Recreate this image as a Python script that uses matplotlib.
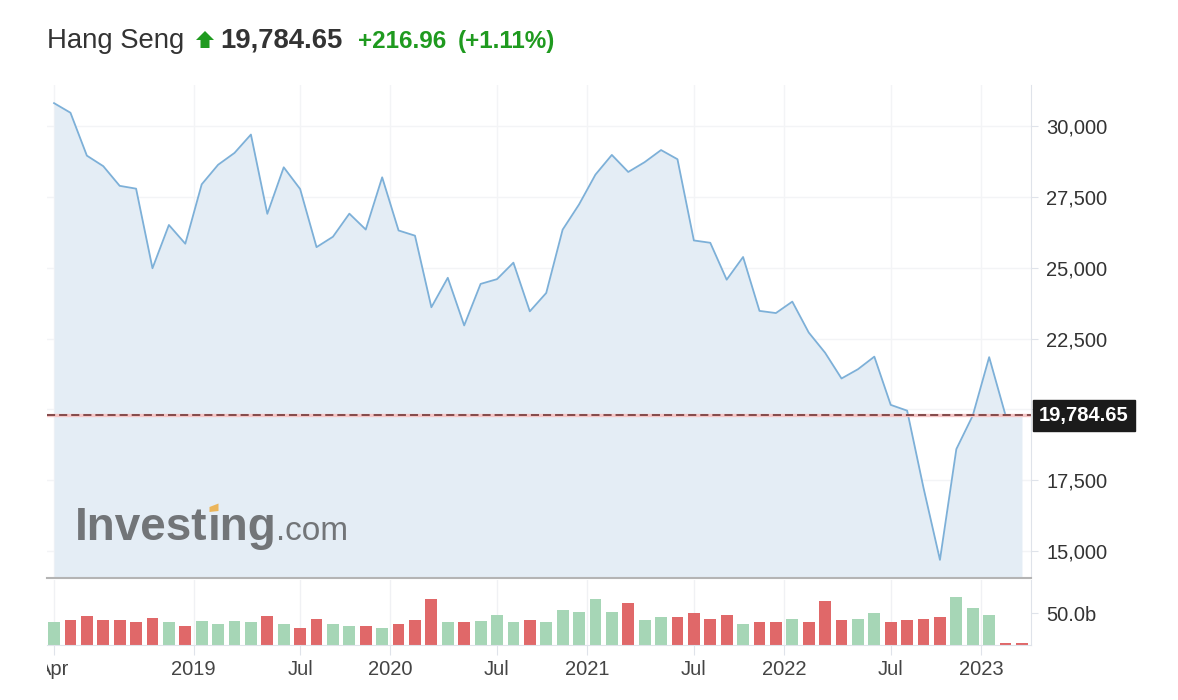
import matplotlib
matplotlib.use("Agg")
import matplotlib.pyplot as plt
import numpy as np
from matplotlib.patches import Polygon
from matplotlib.transforms import Bbox, TransformedBbox

plt.rcParams['font.family'] = ['Liberation Sans', 'DejaVu Sans']

# monthly closes, Apr 2018 .. Mar 2023
close = [30808, 30469, 28955, 28583, 27889, 27789, 24980, 26507, 25846,
         27942, 28633, 29051, 29699, 26901, 28543, 27777, 25725, 26092, 26907, 26346, 28190,
         26313, 26130, 23603, 24644, 22961, 24427, 24595, 25177, 23459, 24107, 26341, 27231,
         28284, 28980, 28378, 28725, 29152, 28828, 25961, 25879, 24576, 25377, 23475, 23398,
         23802, 22713, 21997, 21089, 21415, 21860, 20157, 19954, 17223, 14687, 18597, 19781,
         21842, 19786, 19784.65]
prev_close = 30093  # Mar 2018 close, colours the first volume bar
prev_day = 19567.69  # previous session close, for the header change

# monthly volume, billions
volume = [35.3, 38.4, 44.7, 38.4, 38.4, 35.8, 41.6, 35.3, 30.0,
          37.9, 32.6, 37.9, 35.3, 44.7, 32.6, 26.8, 41.1, 32.6, 30.0, 30.0, 26.8,
          32.6, 38.4, 72.1, 35.3, 35.3, 37.9, 46.8, 35.3, 38.4, 35.3, 54.7, 52.1,
          71.6, 52.1, 66.3, 38.4, 44.2, 44.2, 49.5, 41.1, 46.8, 32.6, 35.3, 35.3,
          41.1, 35.3, 68.9, 38.4, 41.1, 49.5, 35.3, 38.4, 41.1, 44.2, 74.7, 57.9,
          46.8, 2.6, 2.6]

tick_pos = [0, 8.5, 15, 20.5, 27, 32.5, 39, 44.5, 51, 56.5]
tick_labels = ["Apr", "2019", "Jul", "2020", "Jul", "2021", "Jul", "2022", "Jul", "2023"]
price_ticks = [15000, 17500, 20000, 22500, 25000, 27500, 30000]

last = close[-1]
change = last - prev_day
x = np.arange(len(close))
prev = np.r_[prev_close, close[:-1]]
bar_colors = np.where(np.array(close) >= prev, "#a6d6b6", "#e06869")

W, H = 1178, 700
fig = plt.figure(figsize=(W / 100, H / 100), dpi=100)
ax = fig.add_axes([47 / W, 1 - 578 / H, 984 / W, 493 / H])
axv = fig.add_axes([47 / W, 1 - 645 / H, 984 / W, 65 / H], sharex=ax)

y0, y1 = 14047, 31448
ax.fill_between(x, close, y0, color="#e4edf5", lw=0)
ax.plot(x, close, color="#7db0d8", lw=1.3)
ax.axhline(last, color="#f6c6c6", lw=2.4)
ax.axhline(last, color="#7a4040", lw=1.3, dashes=(4.5, 2.2))
ax.set_ylim(y0, y1)
ax.set_xlim(-0.43, 59.55)

ax.yaxis.tick_right()
ax.set_yticks(price_ticks)
ax.set_yticklabels(["" if v == 20000 else f"{v:,}" for v in price_ticks])
ax.set_xticks(tick_pos)
ax.tick_params(axis="y", length=5, color="#dfe3ea", labelsize=14.5, labelcolor="#333333", pad=6)
ax.tick_params(axis="x", length=0, labelbottom=False)
ax.grid(color="#f3f4f6", lw=1)
ax.set_axisbelow(True)
for s in ("left", "top"):
    ax.spines[s].set_visible(False)
ax.spines["right"].set_color("#dfe3ea")
ax.spines["bottom"].set_color("#b4b4b4")
ax.spines["bottom"].set_linewidth(1.5)

ax.text(1.008, last, f"{last:,.2f}", transform=ax.get_yaxis_transform(), ha="left", va="center",
        color="white", fontsize=14.5, fontweight="bold", clip_on=False,
        bbox=dict(boxstyle="square,pad=0.3", fc="#1b1b1b", ec="#1b1b1b"))

# volume panel
axv.bar(x, volume, width=0.72, color=bar_colors)
axv.set_ylim(0, 101.6)
axv.yaxis.tick_right()
axv.set_yticks([50])
axv.set_yticklabels(["50.0b"])
axv.set_xticks(tick_pos)
axv.set_xticklabels(tick_labels)
axv.tick_params(axis="y", length=5, color="#dfe3ea", labelsize=14.5, labelcolor="#333333", pad=6)
axv.tick_params(axis="x", length=7, color="#dfe3ea", labelsize=14.5, labelcolor="#444444", pad=4)
axv.grid(axis="x", color="#f0f1f4", lw=1)
axv.set_axisbelow(True)
for s in ("left", "top"):
    axv.spines[s].set_visible(False)
axv.spines["right"].set_color("#dfe3ea")
axv.spines["bottom"].set_color("#dfe3ea")

clip = TransformedBbox(Bbox([[47 / W, 0], [1, 1]]), fig.transFigure)
for lab in axv.get_xticklabels():
    lab.set_clip_on(True)
    lab.set_clip_box(clip)


def px(points):
    return [(a / W, 1 - b / H) for a, b in points]


# header
green = "#1f9a1f"
base = 1 - 48 / H
fig.text(47 / W, base, "Hang Seng", fontsize=19.8, color="#333333", va="baseline")
arrow = [(196, 40), (205, 31), (214, 40), (209.5, 40), (209.5, 48), (200.5, 48), (200.5, 40)]
fig.patches.append(Polygon(px(arrow), closed=True, transform=fig.transFigure, fc=green, ec="none"))
fig.text(220 / W, base, f"{last:,.2f}", fontsize=19.8, fontweight="bold", color="#333333", va="baseline")
fig.text(358 / W, base, f"+{change:.2f}", fontsize=17.5, fontweight="bold", color=green, va="baseline")
fig.text(458 / W, base, f"(+{change / prev_day * 100:.2f}%)", fontsize=17.5, fontweight="bold",
         color=green, va="baseline")

# watermark
renderer = fig.canvas.get_renderer()
wb = 540
t1 = fig.text(75 / W, 1 - wb / H, "Invest", fontsize=33, fontweight="bold", color="#727578", va="baseline")
e1 = t1.get_window_extent(renderer)
t2 = fig.text(e1.x1 / W, 1 - wb / H, "\u0131ng", fontsize=33, fontweight="bold", color="#727578",
              va="baseline")
e2 = t2.get_window_extent(renderer)
fig.text(e2.x1 / W, 1 - wb / H, ".com", fontsize=24, color="#727578", va="baseline")
bx = e1.x1 + 2
dot = [(bx, wb - 28), (bx + 9, wb - 29), (bx + 9, wb - 36.5), (bx, wb - 33)]
fig.patches.append(Polygon(px(dot), closed=True, transform=fig.transFigure, fc="#ebb55a", ec="none"))

fig.savefig("out.png", dpi=100)
